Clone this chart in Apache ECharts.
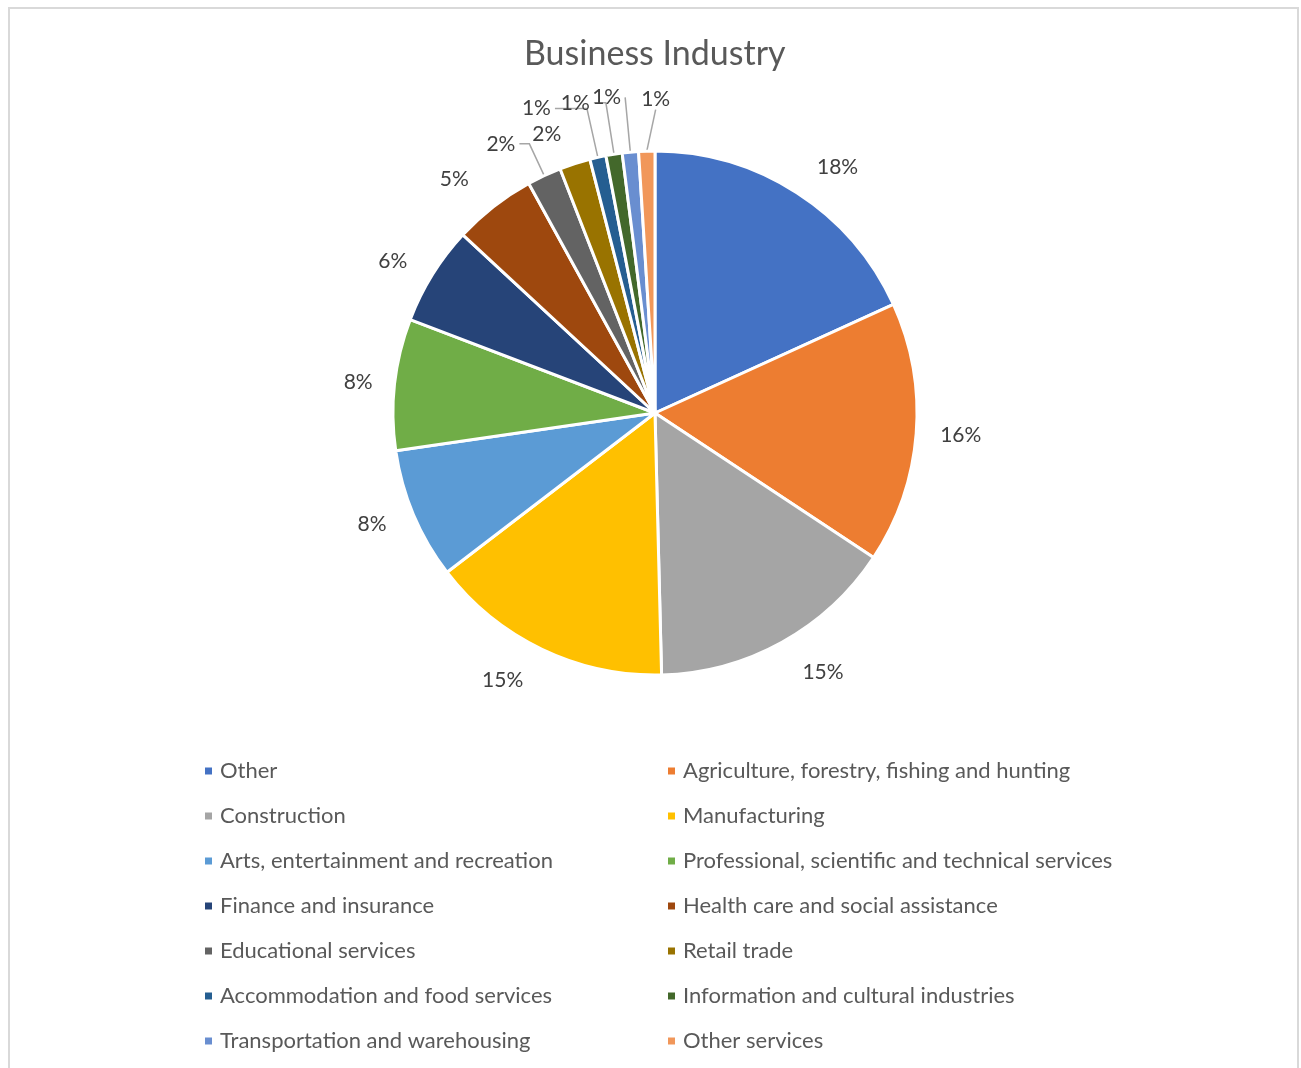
<!DOCTYPE html>
<html>
<head>
<meta charset="utf-8">
<title>Business Industry</title>
<script src="https://cdn.jsdelivr.net/npm/echarts@6/dist/echarts.min.js"></script>
<style>
  html, body { margin: 0; padding: 0; background: #ffffff; }
  #chart { width: 1301px; height: 1068px; }
</style>
</head>
<body>
<div id="chart"></div>
<script>
// Share of businesses by industry (percent)
const categories = [
  'Other',
  'Agriculture, forestry, fishing and hunting',
  'Construction',
  'Manufacturing',
  'Arts, entertainment and recreation',
  'Professional, scientific and technical services',
  'Finance and insurance',
  'Health care and social assistance',
  'Educational services',
  'Retail trade',
  'Accommodation and food services',
  'Information and cultural industries',
  'Transportation and warehousing',
  'Other services'
];
const shares = [18.2, 16.1, 15.3, 15.0, 8.1, 8.1, 6.1, 5.1, 2.1, 1.9, 1.0, 1.0, 1.0, 1.0];

const sliceColors = [
  '#4472C4', '#ED7D31', '#A5A5A5', '#FFC000', '#5B9BD5', '#70AD47', '#264478',
  '#9E480E', '#636363', '#997300', '#255E91', '#43682B', '#698ED0', '#F1975A'
];

// Leader-line geometry per slice: long lines only for the thin slices at the top
const leaderLines = [
  { show: false, length: 30, length2: 0 },
  { show: false, length: 20, length2: 0 },
  { show: false, length: 34, length2: 0 },
  { show: false, length: 34, length2: 0 },
  { show: false, length: 25, length2: 0 },
  { show: false, length: 18, length2: 0 },
  { show: false, length: 25, length2: 0 },
  { show: false, length: 34, length2: 0 },
  { show: true,  length: 35, length2: 10 },
  { show: false, length: 31, length2: 0 },
  { show: true,  length: 50, length2: 32 },
  { show: true,  length: 52, length2: 12 },
  { show: true,  length: 55, length2: 0 },
  { show: true,  length: 52, length2: 0 }
];
// The last thin slice carries its label on the right-hand side of its line
const rightSideLabel = 13;

const FONT = 'Lato, "Open Sans", sans-serif';

const pieData = categories.map((name, i) => ({
  name: name,
  value: shares[i],
  itemStyle: { color: sliceColors[i] },
  labelLine: leaderLines[i]
}));

const leftNames = categories.filter((_, i) => i % 2 === 0);
const rightNames = categories.filter((_, i) => i % 2 === 1);

function legendColumn(names, left) {
  return {
    data: names,
    orient: 'vertical',
    left: left,
    top: 755,
    itemWidth: 9,
    itemHeight: 9,
    itemGap: 23,
    icon: 'rect',
    selectedMode: false,
    textStyle: {
      fontFamily: FONT,
      fontSize: 22,
      color: '#595959',
      lineHeight: 22,
      padding: [0, 0, 0, 2]
    }
  };
}

const chart = echarts.init(document.getElementById('chart'), null, { renderer: 'canvas' });

chart.setOption({
  backgroundColor: '#ffffff',
  animation: false,
  title: {
    text: 'Business Industry',
    left: 519,
    top: 32,
    textStyle: {
      fontFamily: FONT,
      fontSize: 34,
      fontWeight: 'normal',
      color: '#595959'
    }
  },
  legend: [legendColumn(leftNames, 198), legendColumn(rightNames, 661)],
  graphic: [{
    type: 'rect',
    shape: { x: 9, y: 8, width: 1289, height: 1080 },
    style: { fill: 'none', stroke: '#D9D9D9', lineWidth: 2 },
    silent: true,
    z: -1
  }],
  series: [{
    type: 'pie',
    center: [655, 413],
    radius: [0, 262],
    startAngle: 90,
    clockwise: true,
    avoidLabelOverlap: false,
    itemStyle: { borderColor: '#ffffff', borderWidth: 3 },
    label: {
      show: true,
      position: 'outside',
      fontFamily: FONT,
      fontSize: 21,
      color: '#404040',
      distanceToLabelLine: 4,
      formatter: (p) => Math.round(p.percent) + '%'
    },
    labelLine: {
      lineStyle: { color: '#A6A6A6', width: 1.5 }
    },
    labelLayout: (p) => {
      if (p.dataIndex === rightSideLabel) {
        return {
          x: p.labelRect.x + p.labelRect.width,
          y: p.labelRect.y + p.labelRect.height / 2,
          align: 'left',
          verticalAlign: 'middle',
          hideOverlap: false
        };
      }
      return { hideOverlap: false };
    },
    emphasis: { disabled: true },
    data: pieData
  }]
});
</script>
</body>
</html>
